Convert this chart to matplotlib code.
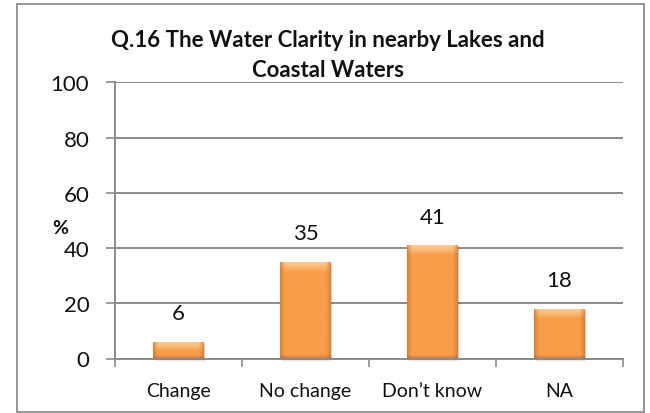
import numpy as np
import matplotlib
matplotlib.use("Agg")
import matplotlib.pyplot as plt
from matplotlib.patches import Rectangle
from matplotlib.colors import to_rgb

plt.rcParams['font.family'] = ['Lato', 'DejaVu Sans']

categories = ["Change", "No change", "Don\u2019t know", "NA"]
values = [6, 35, 41, 18]
title = "Q.16 The Water Clarity in nearby Lakes and\nCoastal Waters"
yticks = [0, 20, 40, 60, 80, 100]

W, H = 650, 414
fig = plt.figure(figsize=(W / 100, H / 100), dpi=100)
fig.patch.set_facecolor("white")

# chart frame
fig.patches.append(Rectangle((17 / W, 1 - 413 / H), (644 - 17) / W, (413 - 5) / H,
                             transform=fig.transFigure, fill=False,
                             edgecolor="#8c8c8c", linewidth=1.3))

ax = fig.add_axes([115 / W, 1 - 359.5 / H, (623 - 115) / W, (359.5 - 83.3) / H])

grid_c = "#8a8a8a"
for s in ["top", "right"]:
    ax.spines[s].set_visible(False)
for s in ["left", "bottom"]:
    ax.spines[s].set_color(grid_c)
    ax.spines[s].set_linewidth(1.4)
ax.set_yticks(yticks)
ax.set_yticklabels([str(t) for t in yticks], fontsize=16, color="#111111")
ax.tick_params(axis="y", length=6.5, width=1.2, color=grid_c, pad=12)
ax.yaxis.grid(True, color=grid_c, linewidth=1.4)
ax.set_axisbelow(True)

ax.set_xticks(np.arange(len(categories) + 1) - 0.5)
ax.set_xticklabels([])
ax.tick_params(axis="x", length=5.5, width=1.2, color=grid_c)
for i, c in enumerate(categories):
    ax.text(i, -0.116, c, transform=ax.get_xaxis_transform(), ha="center",
            va="center", fontsize=14, color="#111111")

# beveled orange bars
base = np.array(to_rgb("#F99D4B"))
light = np.array(to_rgb("#FEDDA8"))
dark = np.array(to_rgb("#D57429"))
bw = 0.4
nx, ny = 60, 120
u = np.linspace(0, 1, nx)
edge = np.clip(1 - np.minimum(u, 1 - u) / 0.1, 0, 1) ** 1.3
for i, v in enumerate(values):
    x0 = i - bw / 2
    h_px = v * 2.762
    top_frac = min(1.0, 10.0 / max(h_px, 1))
    bot_frac = min(1.0, 3.0 / max(h_px, 1))
    img = np.zeros((ny, nx, 3))
    for r, t in enumerate(np.linspace(1, 0, ny)):  # t = 1 at top
        hl = np.clip(1 - (1 - t) / top_frac, 0, 1) ** 0.8
        bot = np.clip(1 - t / bot_frac, 0, 1)
        row = base * (1 - hl * 0.8) + light * hl * 0.8
        row = np.outer(1 - edge * 0.75, row) + np.outer(edge * 0.75, dark)
        img[r] = row * (1 - 0.15 * bot)
    # soft shadow below and to the right
    for k, a in enumerate([0.10, 0.06, 0.03]):
        off = 0.006 * (k + 1)
        ax.add_patch(Rectangle((x0 + off, -0.5 - 0.4 * k), bw, v + 0.2,
                               facecolor="#000000", alpha=a, edgecolor="none",
                               zorder=2, clip_on=False))
    rect = Rectangle((x0, 0), bw, v, facecolor="none", edgecolor="none", zorder=3)
    ax.add_patch(rect)
    im = ax.imshow(img, extent=(x0, x0 + bw, 0, v), aspect="auto",
                   interpolation="bilinear", zorder=3)
    im.set_clip_path(rect)
    ax.annotate(str(v), (i, v), xytext=(0, 20.5), textcoords="offset points",
                ha="center", va="center", fontsize=16, color="#111111")
ax.set_xlim(-0.5, len(categories) - 0.5)
ax.set_ylim(0, 100)

fig.text(60 / W, 1 - 229 / H, "%", ha="center", va="center", fontsize=14,
         fontweight="bold", color="#111111")
fig.text(328 / W, 1 - 30 / H, title, ha="center", va="top", fontsize=16,
         fontweight="bold", color="#111111", linespacing=1.55)

fig.savefig("out.png", dpi=100, facecolor="white")
